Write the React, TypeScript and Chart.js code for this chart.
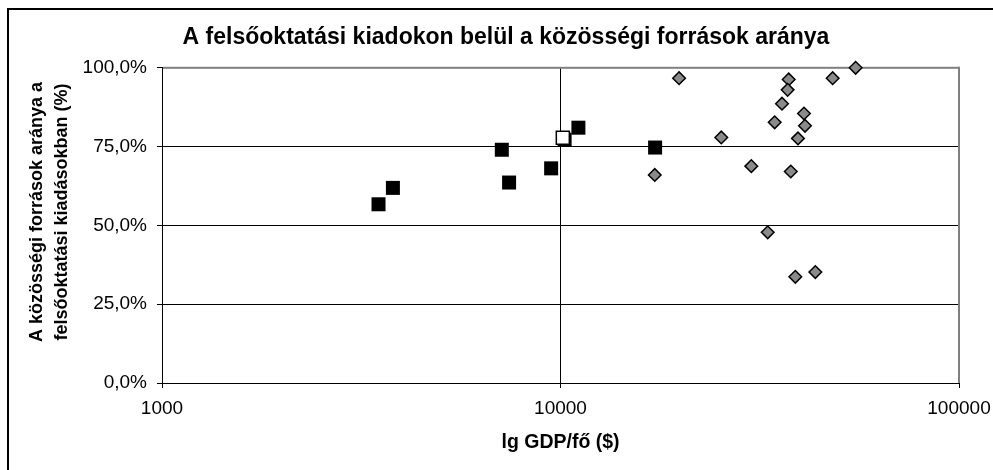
import React, { useEffect, useRef } from "react";
import { Chart, registerables } from "chart.js";

Chart.register(...registerables);

// GDP per capita ($, log axis) and share of public sources (%)
const blackGdp = [3494, 3797, 7124, 7430, 9474, 10240, 11090, 17275];
const blackShare = [56.7, 61.9, 74.0, 63.6, 68.1, 77.2, 81.0, 74.7];
const whiteGdp = [10135];
const whiteShare = [77.8];
const grayGdp = [19840, 55030, 48190, 37380, 37150, 35960, 40830, 34470, 41070, 25320, 39440, 30120, 17240, 37830, 33110, 43600, 38840];
const grayShare = [96.7, 100, 96.7, 96.3, 93.0, 88.6, 85.5, 82.7, 81.6, 77.9, 77.6, 68.8, 66.0, 67.1, 47.8, 35.2, 33.7];
const xTicks = [1000, 10000, 100000];
const yTicks = [0, 25, 50, 75, 100];

const chartTitle = "A felsőoktatási kiadokon belül a közösségi források aránya";
const xTitle = "lg GDP/fő ($)";
const yTitleLines = ["A közösségi források aránya a", "felsőoktatási kiadásokban (%)"];

const FONT = "'Liberation Sans', Arial, Helvetica, sans-serif";

const toPoints = (xs: number[], ys: number[]) => xs.map((x, i) => ({ x, y: ys[i] }));

const decorPlugin = {
  id: "decor",
  beforeDraw(chart: any) {
    const ctx = chart.ctx;
    ctx.save();
    ctx.fillStyle = "#ffffff";
    ctx.fillRect(0, 0, chart.width, chart.height);
    ctx.fillStyle = "#000000";
    ctx.fillRect(7, 8, chart.width, 2);
    ctx.fillRect(7, 8, 2, chart.height);
    ctx.restore();
  },
  beforeDatasetsDraw(chart: any) {
    const { ctx, chartArea } = chart;
    const { left, right, top, bottom } = chartArea;
    ctx.save();
    ctx.fillStyle = "#808080";
    ctx.fillRect(left + 1, top - 1, right - left, 2);
    ctx.fillRect(right - 1, top - 1, 2, bottom - top + 1);
    ctx.restore();
  },
  afterDraw(chart: any) {
    const ctx = chart.ctx;
    ctx.save();
    ctx.fillStyle = "#000";
    ctx.font = `bold 18px ${FONT}`;
    ctx.textAlign = "center";
    ctx.textBaseline = "middle";
    const xs = [37.5, 62.5];
    yTitleLines.forEach((line, i) => {
      ctx.save();
      ctx.translate(xs[i], 212);
      ctx.rotate(-Math.PI / 2);
      ctx.fillText(line, 0, 0);
      ctx.restore();
    });
    ctx.restore();
  },
};

export default function App() {
  const canvasRef = useRef<HTMLCanvasElement | null>(null);

  useEffect(() => {
    if (!canvasRef.current) return;
    const chart = new Chart(canvasRef.current, {
      type: "scatter",
      data: {
        datasets: [
          {
            label: "white",
            data: toPoints(whiteGdp, whiteShare),
            pointStyle: "rect",
            pointRadius: 9.2,
            pointBackgroundColor: "#ffffff",
            pointBorderColor: "#000000",
            pointBorderWidth: 1.5,
            clip: false,
          },
          {
            label: "black",
            data: toPoints(blackGdp, blackShare),
            pointStyle: "rect",
            pointRadius: 9.9,
            pointBackgroundColor: "#000000",
            pointBorderColor: "#000000",
            pointBorderWidth: 0,
            clip: false,
          },
          {
            label: "gray",
            data: toPoints(grayGdp, grayShare),
            pointStyle: "rectRot",
            pointRadius: 6.3,
            pointBackgroundColor: "#8a8a8a",
            pointBorderColor: "#000000",
            pointBorderWidth: 1.5,
            clip: false,
          },
        ],
      },
      options: {
        animation: false,
        responsive: false,
        devicePixelRatio: 1,
        events: [],
        layout: { padding: { left: 53, right: 34, top: 0, bottom: 0 } },
        plugins: {
          legend: { display: false },
          tooltip: { enabled: false },
          title: {
            display: true,
            text: chartTitle,
            color: "#000",
            font: { family: FONT, size: 23, weight: "bold" },
            padding: { top: 23.5, bottom: 16.7 },
          },
        },
        scales: {
          x: {
            type: "logarithmic",
            min: 1000,
            max: 100000,
            afterFit: (s: any) => {
              s.height = 87;
              s.paddingLeft = 0;
              s.paddingRight = 0;
            },
            afterBuildTicks: (s: any) => {
              s.ticks = xTicks.map((v) => ({ value: v }));
            },
            ticks: {
              color: "#000",
              font: { family: FONT, size: 19 },
              padding: 9.5,
              maxRotation: 0,
              autoSkip: false,
              callback: (v: any) => String(v),
            },
            grid: {
              color: (c: any) => (c.tick && c.tick.value === 10000 ? "#000" : "rgba(0,0,0,0)"),
              tickColor: "#000",
              tickLength: 5,
              lineWidth: 1,
            },
            border: { display: true, color: "#000", width: 1 },
            title: {
              display: true,
              text: xTitle,
              color: "#000",
              font: { family: FONT, size: 19.5, weight: "bold" },
              padding: { top: 0, bottom: 16 },
            },
          },
          y: {
            type: "linear",
            min: 0,
            max: 100,
            afterFit: (s: any) => {
              s.width = 109;
              s.paddingTop = 0;
              s.paddingBottom = 0;
            },
            afterBuildTicks: (s: any) => {
              s.ticks = yTicks.map((v) => ({ value: v }));
            },
            ticks: {
              color: "#000",
              font: { family: FONT, size: 19 },
              padding: 10,
              callback: (v: any) => Number(v).toFixed(1).replace(".", ",") + "%",
            },
            grid: {
              color: "#000",
              tickColor: "#000",
              tickLength: 5,
              lineWidth: 1,
            },
            border: { display: true, color: "#000", width: 1 },
          },
        },
      },
      plugins: [decorPlugin],
    });
    return () => chart.destroy();
  }, []);

  return (
    <div
      style={{
        position: "fixed",
        left: 0,
        top: 0,
        width: 993,
        height: 470,
        overflow: "hidden",
        background: "#fff",
      }}
    >
      <canvas ref={canvasRef} width={993} height={470} style={{ display: "block", width: 993, height: 470 }} />
    </div>
  );
}
